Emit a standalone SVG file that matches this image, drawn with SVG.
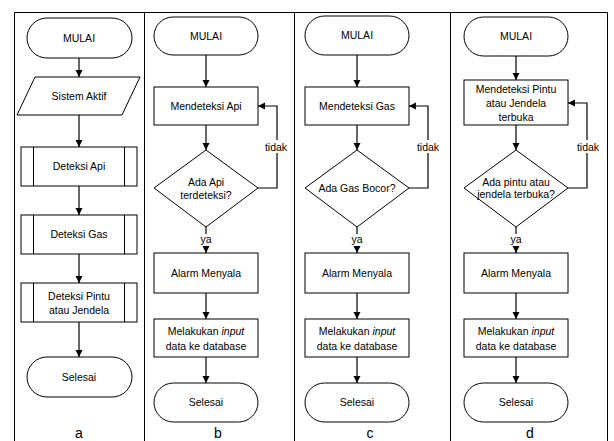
<svg xmlns="http://www.w3.org/2000/svg" width="614" height="441" viewBox="0 0 614 441">
<defs>
<marker id="ah" markerUnits="userSpaceOnUse" markerWidth="8" markerHeight="8" refX="7" refY="4" orient="auto">
<path d="M0,0.5 L7,4 L0,7.5 z" fill="#000"/>
</marker>
<style>
.s{fill:#fff;stroke:#000;stroke-width:1}
.ln{fill:none;stroke:#000;stroke-width:1}
.c{fill:none;stroke:#000;stroke-width:1.2;marker-end:url(#ah)}
.t{font-family:"Liberation Sans",Arial,sans-serif;font-size:10.5px;fill:#000;text-anchor:middle}
.l{font-family:"Liberation Sans",Arial,sans-serif;font-size:14px;fill:#000;text-anchor:middle}
.bg{fill:#fff}
</style>
</defs>
<rect width="614" height="441" fill="#fff"/>
<g id="frame" class="ln">
<path d="M14.5,441 V12.5 H607.5 V441"/>
<path d="M144.5,12.5 V441 M294.5,12.5 V441 M450.5,12.5 V441"/>
</g>
<g id="connectors">
<path class="c" d="M79,58 V77"/>
<path class="c" d="M79,115 V147"/>
<path class="c" d="M79,186 V215"/>
<path class="c" d="M79,254 V283"/>
<path class="c" d="M79,322 V357"/>

<path class="c" d="M206,55 V87"/>
<path class="c" d="M206,125 V150"/>
<path class="c" d="M206,227 V253"/>
<path class="c" d="M206,293 V319"/>
<path class="c" d="M206,357 V383"/>
<path class="c" d="M258,188 H277 V106 H258"/>

<path class="c" d="M357,55 V87"/>
<path class="c" d="M357,125 V150"/>
<path class="c" d="M357,227 V253"/>
<path class="c" d="M357,293 V319"/>
<path class="c" d="M357,357 V383"/>
<path class="c" d="M409,188 H428 V106 H409"/>

<path class="c" d="M516,56 V80"/>
<path class="c" d="M516,125 V150"/>
<path class="c" d="M516,227 V253"/>
<path class="c" d="M516,293 V319"/>
<path class="c" d="M516,357 V383"/>
<path class="c" d="M568,188 H587 V103 H568"/>

<rect class="bg" x="263" y="140" width="28" height="13"/>
<text class="t" x="276" y="151">tidak</text>
<rect class="bg" x="414" y="140" width="28" height="13"/>
<text class="t" x="428" y="151">tidak</text>
<rect class="bg" x="573" y="140" width="28" height="13"/>
<text class="t" x="588" y="151">tidak</text>
<rect class="bg" x="198" y="234" width="16" height="12"/>
<text class="t" x="206" y="243">ya</text>
<rect class="bg" x="349" y="234" width="16" height="12"/>
<text class="t" x="357" y="243">ya</text>
<rect class="bg" x="508" y="234" width="16" height="12"/>
<text class="t" x="516" y="243">ya</text>
</g>

<g id="a-mulai"><rect class="s" x="27" y="18" width="105" height="40" rx="20"/><text class="t" x="79" y="42">MULAI</text></g>
<g id="a-sistem"><polygon class="s" points="35,77 140,77 122,115 17,115"/><text class="t" x="79" y="100">Sistem Aktif</text></g>
<g id="a-api"><rect class="s" x="21" y="147" width="116" height="39"/><path class="ln" d="M33.5,147 V186 M124.5,147 V186"/><text class="t" x="79" y="170">Deteksi Api</text></g>
<g id="a-gas"><rect class="s" x="21" y="215" width="116" height="39"/><path class="ln" d="M33.5,215 V254 M124.5,215 V254"/><text class="t" x="79" y="238">Deteksi Gas</text></g>
<g id="a-pintu"><rect class="s" x="21" y="283" width="116" height="39"/><path class="ln" d="M33.5,283 V322 M124.5,283 V322"/><text class="t" x="79" y="300">Deteksi Pintu</text><text class="t" x="79" y="314">atau Jendela</text></g>
<g id="a-selesai"><rect class="s" x="27" y="357" width="105" height="40" rx="20"/><text class="t" x="79" y="381">Selesai</text></g>

<g id="b-mulai"><rect class="s" x="154" y="17" width="104" height="38" rx="19"/><text class="t" x="206" y="40">MULAI</text></g>
<g id="b-deteksi"><rect class="s" x="154" y="87" width="104" height="38"/><text class="t" x="206" y="110">Mendeteksi Api</text></g>
<g id="b-cek"><polygon class="s" points="206,150 258,188 206,227 154,188"/><text class="t" x="206" y="186">Ada Api</text><text class="t" x="206" y="199">terdeteksi?</text></g>
<g id="b-alarm"><rect class="s" x="154" y="253" width="104" height="40"/><text class="t" x="206" y="277">Alarm Menyala</text></g>
<g id="b-input"><rect class="s" x="154" y="319" width="104" height="38"/><text class="t" x="206" y="335">Melakukan <tspan font-style="italic">input</tspan></text><text class="t" x="206" y="350">data ke database</text></g>
<g id="b-selesai"><rect class="s" x="154" y="383" width="104" height="39" rx="19.5"/><text class="t" x="206" y="406">Selesai</text></g>

<g id="c-mulai"><rect class="s" x="305" y="16" width="104" height="39" rx="19.5"/><text class="t" x="357" y="39">MULAI</text></g>
<g id="c-deteksi"><rect class="s" x="305" y="87" width="104" height="38"/><text class="t" x="357" y="110">Mendeteksi Gas</text></g>
<g id="c-cek"><polygon class="s" points="357,150 409,188 357,227 305,188"/><text class="t" x="357" y="192">Ada Gas Bocor?</text></g>
<g id="c-alarm"><rect class="s" x="305" y="253" width="104" height="40"/><text class="t" x="357" y="277">Alarm Menyala</text></g>
<g id="c-input"><rect class="s" x="305" y="319" width="104" height="38"/><text class="t" x="357" y="335">Melakukan <tspan font-style="italic">input</tspan></text><text class="t" x="357" y="350">data ke database</text></g>
<g id="c-selesai"><rect class="s" x="305" y="383" width="104" height="39" rx="19.5"/><text class="t" x="357" y="406">Selesai</text></g>

<g id="d-mulai"><rect class="s" x="464" y="17" width="104" height="39" rx="19.5"/><text class="t" x="516" y="40">MULAI</text></g>
<g id="d-deteksi"><rect class="s" x="464" y="80" width="104" height="45"/><text class="t" x="516" y="93">Mendeteksi Pintu</text><text class="t" x="516" y="107">atau Jendela</text><text class="t" x="516" y="121">terbuka</text></g>
<g id="d-cek"><polygon class="s" points="516,150 568,188 516,227 464,188"/><text class="t" x="516" y="186">Ada pintu atau</text><text class="t" x="516" y="198">jendela terbuka?</text></g>
<g id="d-alarm"><rect class="s" x="464" y="253" width="104" height="40"/><text class="t" x="516" y="277">Alarm Menyala</text></g>
<g id="d-input"><rect class="s" x="464" y="319" width="104" height="38"/><text class="t" x="516" y="335">Melakukan <tspan font-style="italic">input</tspan></text><text class="t" x="516" y="350">data ke database</text></g>
<g id="d-selesai"><rect class="s" x="464" y="383" width="104" height="39" rx="19.5"/><text class="t" x="516" y="406">Selesai</text></g>

<g id="labels">
<text class="l" x="79" y="438">a</text>
<text class="l" x="218" y="438">b</text>
<text class="l" x="370" y="438">c</text>
<text class="l" x="530" y="438">d</text>
</g>
</svg>
